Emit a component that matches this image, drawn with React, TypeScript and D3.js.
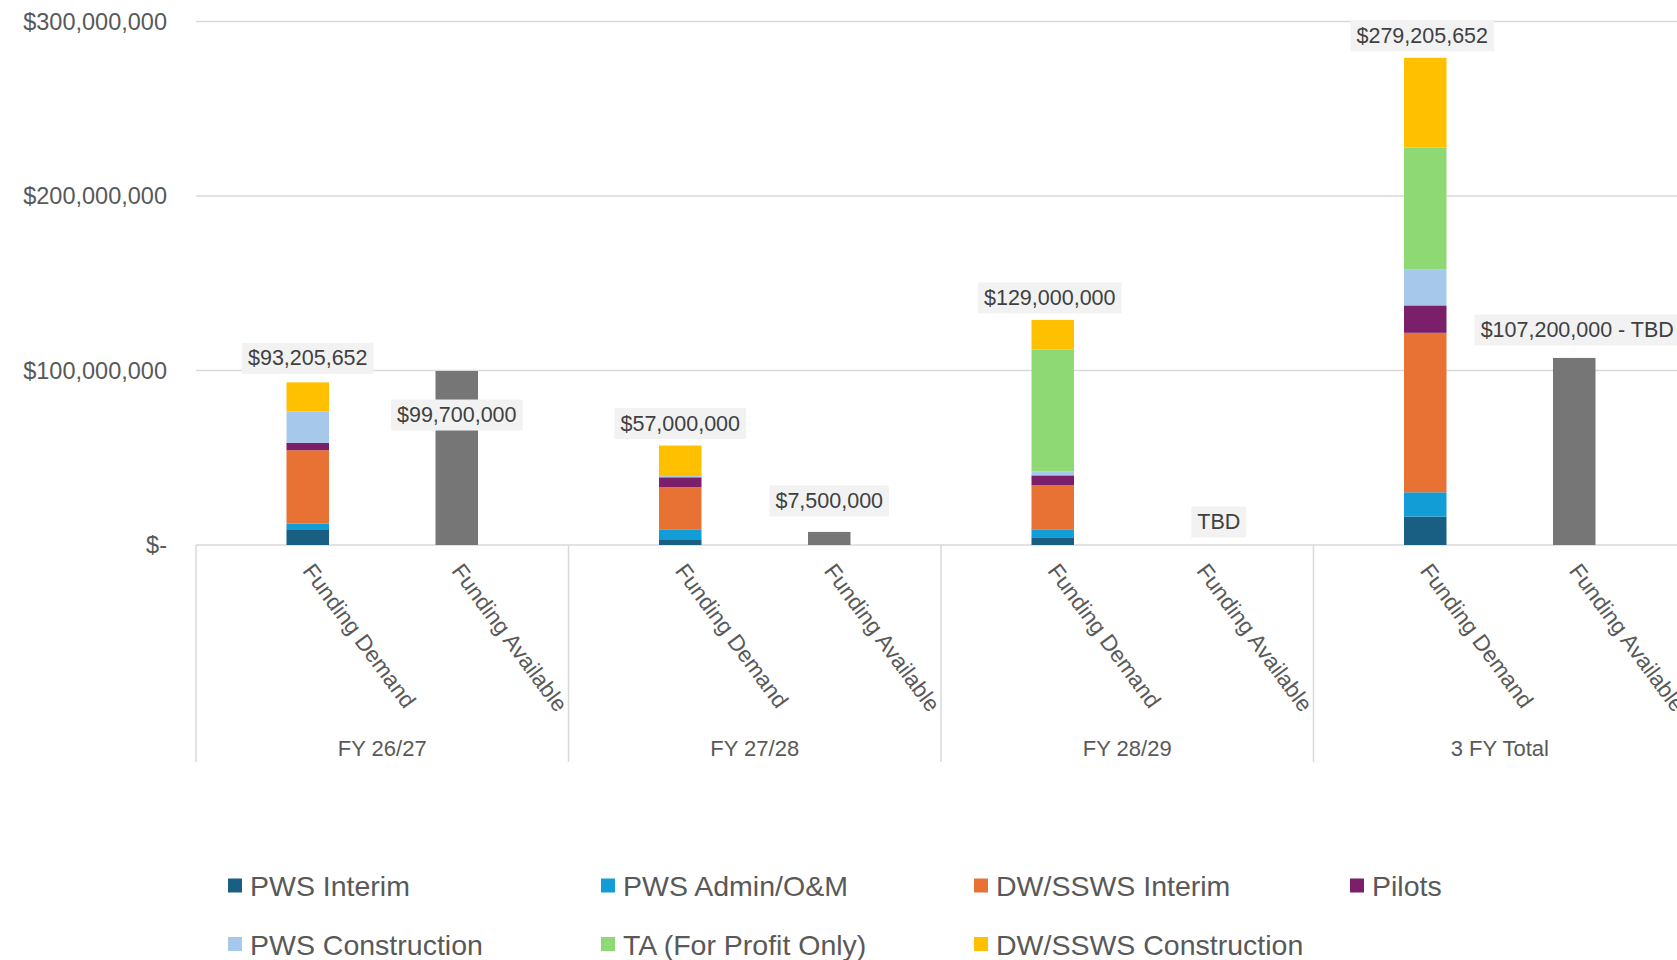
import React from 'react';
import * as d3 from 'd3';

// ---------- data ----------
const groups = ['FY 26/27', 'FY 27/28', 'FY 28/29', '3 FY Total'];
const subCategories = ['Funding Demand', 'Funding Available'];

const seriesNames = [
  'PWS Interim',
  'PWS Admin/O&M',
  'DW/SSWS Interim',
  'Pilots',
  'PWS Construction',
  'TA (For Profit Only)',
  'DW/SSWS Construction',
];
const seriesColors = ['#195e83', '#139dd7', '#e87134', '#7b1f6b', '#a6c9eb', '#8fd974', '#ffc000'];

// demand components, millions of dollars, one value per group
const pwsInterim = [8.6, 3.3, 4.4, 16.3];
const pwsAdmin = [3.6, 5.7, 4.6, 13.9];
const dwInterim = [42.1, 24.1, 25.2, 91.4];
const pilots = [4.3, 5.7, 5.7, 15.7];
const pwsConstruction = [17.8, 0.7, 2.3, 20.8];
const taForProfit = [0, 0, 69.7, 69.7];
const dwConstruction = [16.8, 17.5, 17.1, 51.4];

const demandTotals = [93205652, 57000000, 129000000, 279205652];
const demandLabels = ['$93,205,652', '$57,000,000', '$129,000,000', '$279,205,652'];

const availableValues = [99700000, 7500000, 0, 107200000];
const availableLabels = ['$99,700,000', '$7,500,000', 'TBD', '$107,200,000 - TBD'];
const availableColor = '#767676';

const yTicks = [0, 100000000, 200000000, 300000000];
const yTickLabels = ['$-', '$100,000,000', '$200,000,000', '$300,000,000'];

// ---------- layout ----------
const W = 1677;
const H = 960;
const FONT = '"Liberation Sans", Arial, sans-serif';
const plotLeft = 196;
const groupWidth = 372.5;
const baseY = 545;
const topY = 21.5;
// label placement offsets (box centre relative to bar top)
const demandLabelOffset = [
  { dx: 0, dy: -24 },
  { dx: 0, dy: -22 },
  { dx: -3, dy: -22 },
  { dx: -3, dy: -22 },
];
const availLabelOffset = [
  { dx: 0, dy: 44 },
  { dx: 0, dy: -31 },
  { dx: 17, dy: -23 },
  { dx: 3, dy: -28 },
];

let measureCtx: CanvasRenderingContext2D | null = null;
function textWidth(t: string, size: number) {
  if (!measureCtx) measureCtx = document.createElement('canvas').getContext('2d');
  if (!measureCtx) return t.length * size * 0.55;
  measureCtx.font = `${size}px ${FONT}`;
  return measureCtx.measureText(t).width;
}

function DataLabel({ cx, cy, text }: { cx: number; cy: number; text: string }) {
  const fs = 21.5;
  const w = textWidth(text, fs) + 12;
  const h = 31;
  return (
    <g>
      <rect x={cx - w / 2} y={cy - h / 2} width={w} height={h} fill="#f2f2f2" />
      <text x={cx} y={cy} textAnchor="middle" dominantBaseline="central" fontSize={fs} fill="#404040" fontFamily={FONT}>
        {text}
      </text>
    </g>
  );
}

export default function App() {
  const x0 = d3.scaleBand<string>().domain(groups).range([plotLeft, plotLeft + groupWidth * groups.length]).paddingInner(0).paddingOuter(0);
  const x1 = d3.scalePoint<string>().domain(subCategories).range([0, x0.bandwidth()]).padding(0.75);
  const y = d3.scaleLinear().domain([0, 300000000]).range([baseY, topY]);
  const barW = 42.5;

  const seriesArrays = [pwsInterim, pwsAdmin, dwInterim, pilots, pwsConstruction, taForProfit, dwConstruction];
  const rows = groups.map((g, gi) => {
    const r: Record<string, number> = {};
    seriesNames.forEach((s, si) => (r[s] = seriesArrays[si][gi] * 1e6));
    return r;
  });
  const stacked = d3.stack<Record<string, number>>().keys(seriesNames)(rows);

  const demandX = (g: string) => (x0(g) as number) + (x1('Funding Demand') as number);
  const availX = (g: string) => (x0(g) as number) + (x1('Funding Available') as number);

  const legendCols = [228, 601, 974, 1350];
  const legendRows = [885.5, 944];

  return (
    <svg width={W} height={H} style={{ position: 'absolute', left: 0, top: 0, background: '#fff' }} fontFamily={FONT}>
      <rect x={0} y={0} width={W} height={H} fill="#ffffff" />
      {/* gridlines */}
      {yTicks.map((t, i) => (
        <g key={i}>
          <line x1={plotLeft} x2={W} y1={y(t)} y2={y(t)} stroke="#d9d9d9" strokeWidth={1.5} />
          <text x={167} y={y(t)} textAnchor="end" dominantBaseline="central" fontSize={23.5} fill="#595959">
            {yTickLabels[i]}
          </text>
        </g>
      ))}
      {/* category dividers */}
      {groups.map((g) => (
        <line key={g} x1={x0(g) as number} x2={x0(g) as number} y1={baseY} y2={762} stroke="#d9d9d9" strokeWidth={1.5} />
      ))}
      {/* demand stacks */}
      {stacked.map((s, si) => (
        <g key={s.key} fill={seriesColors[si]}>
          {s.map((d, gi) =>
            d[1] - d[0] > 0 ? (
              <rect key={gi} x={demandX(groups[gi]) - barW / 2} width={barW} y={y(d[1])} height={y(d[0]) - y(d[1])} />
            ) : null
          )}
        </g>
      ))}
      {/* available bars */}
      {groups.map((g, gi) =>
        availableValues[gi] > 0 ? (
          <rect key={g} x={availX(g) - barW / 2} width={barW} y={y(availableValues[gi])} height={baseY - y(availableValues[gi])} fill={availableColor} />
        ) : null
      )}
      {/* data labels */}
      {groups.map((g, gi) => (
        <DataLabel
          key={'d' + g}
          cx={demandX(g) + demandLabelOffset[gi].dx}
          cy={y(demandTotals[gi]) + demandLabelOffset[gi].dy}
          text={demandLabels[gi]}
        />
      ))}
      {groups.map((g, gi) => (
        <DataLabel
          key={'a' + g}
          cx={availX(g) + availLabelOffset[gi].dx}
          cy={y(availableValues[gi]) + availLabelOffset[gi].dy}
          text={availableLabels[gi]}
        />
      ))}
      {/* rotated sub-category labels */}
      {groups.map((g) =>
        subCategories.map((s) => {
          const cx = (x0(g) as number) + (x1(s) as number) - 6;
          const cy = 571;
          return (
            <text key={g + s} x={cx} y={cy} transform={`rotate(53.5, ${cx}, ${cy})`} fontSize={22.5} fill="#595959">
              {s}
            </text>
          );
        })
      )}
      {/* group labels */}
      {groups.map((g) => (
        <text key={'gl' + g} x={(x0(g) as number) + x0.bandwidth() / 2} y={756} textAnchor="middle" fontSize={22} fill="#595959">
          {g}
        </text>
      ))}
      {/* legend */}
      {seriesNames.map((s, i) => {
        const lx = legendCols[i % 4];
        const ly = legendRows[Math.floor(i / 4)];
        return (
          <g key={s}>
            <rect x={lx} y={ly - 7} width={14} height={14} fill={seriesColors[i]} />
            <text x={lx + 22} y={ly + 10.5} fontSize={28.5} fill="#595959">
              {s}
            </text>
          </g>
        );
      })}
    </svg>
  );
}
